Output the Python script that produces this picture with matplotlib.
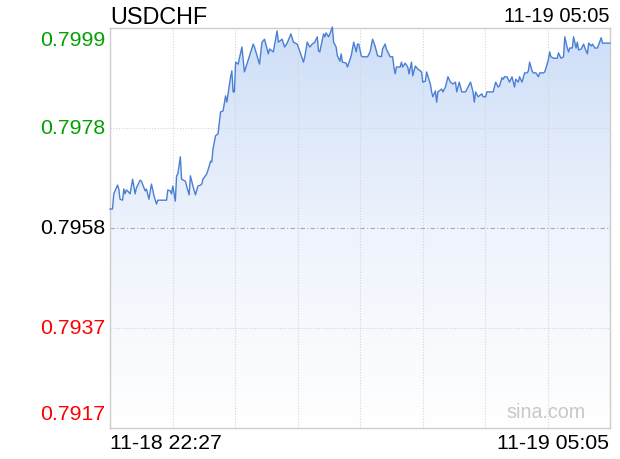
import numpy as np
import matplotlib
matplotlib.use("Agg")
import matplotlib.pyplot as plt
from matplotlib.colors import LinearSegmentedColormap

plt.rcParams['font.family'] = ['Liberation Sans', 'DejaVu Sans']

symbol = "USDCHF"
last_time = "11-19 05:05"
time_labels = ["11-18 22:27", "11-19 05:05"]
session_minutes = 398
y_low, y_high = 0.79170, 0.79990
y_labels = ["0.7999", "0.7978", "0.7958", "0.7937", "0.7917"]
label_colors = ["#00a000", "#00a000", "#000000", "#ff0000", "#ff0000"]

# minutes since 22:27 and the price at that minute
minutes = [0, 2, 3, 6, 7, 8, 10, 11, 12, 13, 14, 16, 18, 20, 21, 24, 25, 28, 29, 31,
           33, 35, 37, 38, 45, 46, 48, 49, 50, 52, 53, 54, 56, 57, 60, 61, 63, 64, 66, 68,
           70, 72, 73, 74, 77, 79, 80, 81, 82, 84, 86, 88, 90, 92, 93, 96, 97, 98, 99, 100,
           102, 105, 107, 111, 114, 115, 119, 121, 123, 126, 127, 130, 133, 134, 137, 139, 141, 144, 146, 149,
           151, 154, 155, 157, 159, 161, 163, 165, 166, 167, 170, 171, 172, 174, 175, 177, 178, 180, 181, 183,
           184, 185, 188, 189, 192, 194, 196, 197, 198, 200, 201, 205, 207, 209, 211, 213, 216, 217, 219, 220,
           223, 225, 226, 227, 228, 231, 232, 233, 235, 237, 238, 240, 241, 243, 245, 248, 249, 251, 252, 255,
           256, 257, 259, 260, 261, 264, 265, 267, 269, 271, 273, 275, 276, 278, 280, 283, 285, 287, 289, 290,
           291, 293, 296, 297, 299, 300, 305, 307, 309, 310, 312, 313, 314, 316, 318, 320, 322, 323, 325, 326,
           328, 330, 332, 333, 334, 336, 337, 339, 341, 342, 345, 346, 348, 349, 350, 351, 353, 356, 357, 359,
           361, 362, 364, 365, 366, 368, 369, 371, 372, 373, 375, 377, 378, 380, 381, 383, 384, 386, 388, 391,
           392, 396, 398]
prices = [0.79619, 0.79619, 0.79650, 0.79668, 0.79660, 0.79639, 0.79637, 0.79660, 0.79650, 0.79658,
          0.79656, 0.79650, 0.79680, 0.79650, 0.79662, 0.79678, 0.79676, 0.79656, 0.79660, 0.79639,
          0.79670, 0.79646, 0.79629, 0.79637, 0.79637, 0.79658, 0.79656, 0.79650, 0.79666, 0.79635,
          0.79687, 0.79691, 0.79726, 0.79680, 0.79676, 0.79666, 0.79648, 0.79687, 0.79666, 0.79648,
          0.79666, 0.79668, 0.79670, 0.79680, 0.79691, 0.79707, 0.79717, 0.79715, 0.79742, 0.79769,
          0.79773, 0.79818, 0.79820, 0.79851, 0.79838, 0.79890, 0.79902, 0.79859, 0.79859, 0.79920,
          0.79916, 0.79951, 0.79900, 0.79933, 0.79957, 0.79951, 0.79916, 0.79961, 0.79967, 0.79937,
          0.79947, 0.79941, 0.79984, 0.79961, 0.79967, 0.79951, 0.79959, 0.79978, 0.79961, 0.79957,
          0.79943, 0.79920, 0.79931, 0.79961, 0.79951, 0.79957, 0.79961, 0.79972, 0.79943, 0.79941,
          0.79978, 0.79972, 0.79980, 0.79972, 0.79978, 0.79992, 0.79961, 0.79951, 0.79933, 0.79922,
          0.79937, 0.79920, 0.79918, 0.79910, 0.79933, 0.79961, 0.79941, 0.79957, 0.79957, 0.79933,
          0.79931, 0.79931, 0.79941, 0.79967, 0.79953, 0.79933, 0.79931, 0.79947, 0.79957, 0.79947,
          0.79931, 0.79931, 0.79910, 0.79896, 0.79910, 0.79910, 0.79920, 0.79910, 0.79918, 0.79910,
          0.79896, 0.79920, 0.79892, 0.79912, 0.79906, 0.79900, 0.79879, 0.79881, 0.79900, 0.79875,
          0.79859, 0.79849, 0.79861, 0.79838, 0.79859, 0.79865, 0.79859, 0.79869, 0.79890, 0.79879,
          0.79875, 0.79879, 0.79859, 0.79879, 0.79859, 0.79859, 0.79869, 0.79879, 0.79859, 0.79838,
          0.79859, 0.79849, 0.79855, 0.79849, 0.79849, 0.79859, 0.79859, 0.79879, 0.79869, 0.79871,
          0.79888, 0.79885, 0.79890, 0.79890, 0.79879, 0.79890, 0.79869, 0.79885, 0.79879, 0.79890,
          0.79879, 0.79898, 0.79898, 0.79902, 0.79920, 0.79902, 0.79898, 0.79898, 0.79890, 0.79898,
          0.79898, 0.79900, 0.79916, 0.79926, 0.79941, 0.79931, 0.79928, 0.79928, 0.79939, 0.79928,
          0.79931, 0.79972, 0.79949, 0.79941, 0.79949, 0.79949, 0.79972, 0.79949, 0.79961, 0.79945,
          0.79947, 0.79957, 0.79949, 0.79937, 0.79959, 0.79953, 0.79957, 0.79949, 0.79949, 0.79970,
          0.79959, 0.79959, 0.79959]

fig = plt.figure(figsize=(6.2, 4.6), dpi=100)
ax = fig.add_axes([110 / 620, 31 / 460, 500 / 620, 400 / 460])
ax.set_xlim(0, session_minutes)
ax.set_ylim(y_low, y_high)

# gradient fill under the line
fill = ax.fill_between(minutes, prices, y_low, facecolor='none', edgecolor='none')
cmap = LinearSegmentedColormap.from_list('fade', ['#ffffff', '#eef3fc', '#cddef8'])
grad = np.linspace(0, 1, 256).reshape(-1, 1)
img = ax.imshow(grad, cmap=cmap, aspect='auto', origin='lower',
                extent=[0, session_minutes, y_low, max(prices)], zorder=1)
img.set_clip_path(fill.get_paths()[0], transform=ax.transData)

ax.plot(minutes, prices, color='#4a7fd4', lw=1.0, zorder=3, clip_on=False)

# grid
levels = np.linspace(y_high, y_low, 5)
for xv in np.linspace(0, session_minutes, 9)[1:-1]:
    ax.axvline(xv, color='#d4d4d4', lw=0.8, ls=(0, (1, 1.5)), zorder=2)
for lv in (levels[1], levels[3]):
    ax.axhline(lv, color='#d4d4d4', lw=0.8, ls=(0, (1, 1.5)), zorder=2)
ax.axhline(levels[2], color='#a8a8bc', lw=0.8, ls=(0, (4, 2, 1, 2)), zorder=2)

ax.set_xticks([])
ax.set_yticks([])
for s in ax.spines.values():
    s.set_color('#cccccc')
    s.set_linewidth(1.0)

# price labels
label_pos = [1 - 11 / 400, 0.75, 0.5, 0.25, 14 / 400]
for txt, c, pos in zip(y_labels, label_colors, label_pos):
    ax.text(-5 / 500, pos, txt, color=c, fontsize=15.3, ha='right', va='center',
            transform=ax.transAxes)

fig.text(110 / 620, 1 - 17 / 460, symbol, fontsize=16.8, ha='left', va='center')
fig.text(609 / 620, 1 - 17 / 460, last_time, fontsize=14.5, ha='right', va='center')
fig.text(110 / 620, 1 - 444 / 460, time_labels[0], fontsize=15.3, ha='left', va='center')
fig.text(609 / 620, 1 - 444 / 460, time_labels[1], fontsize=15.3, ha='right', va='center')
ax.text(0.872, 0.04, "sina.com", color='#c8c8c8', fontsize=14.2, ha='center', va='center',
        transform=ax.transAxes)

fig.savefig("out.png", dpi=100)
